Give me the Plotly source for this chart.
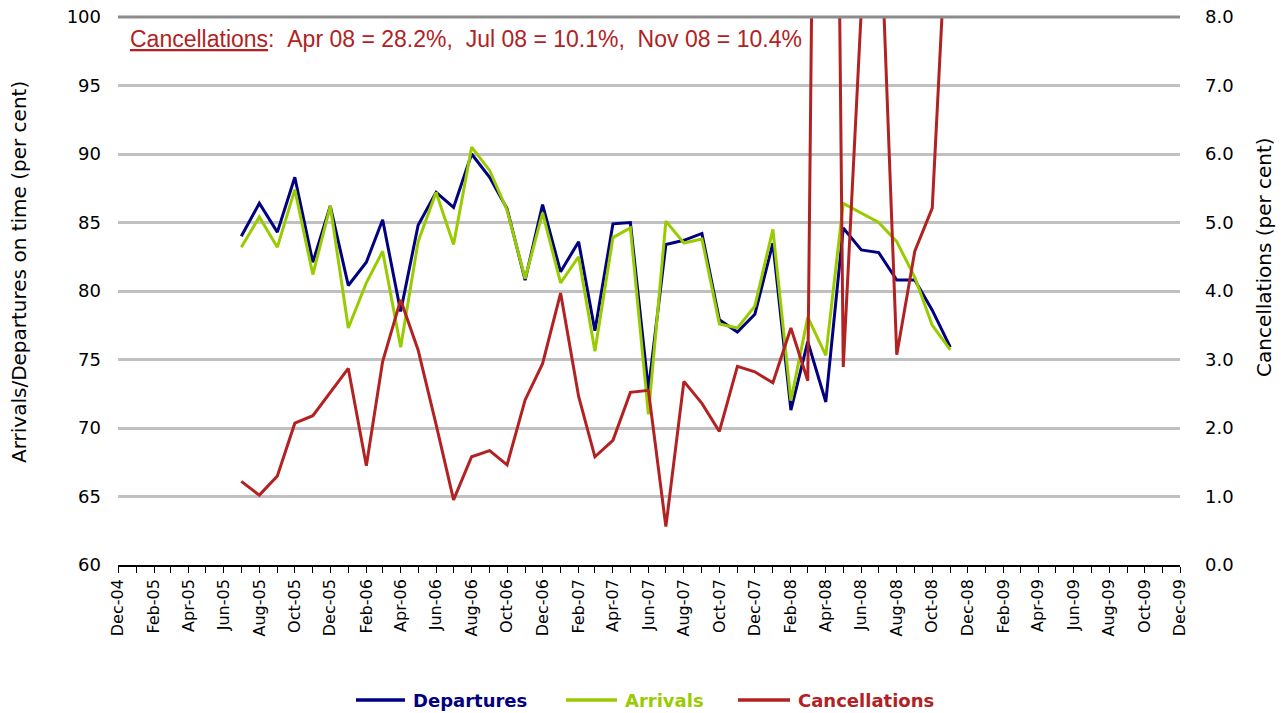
import plotly.graph_objects as go

# ---------------- data ----------------
months = [
    "2005-07-01", "2005-08-01", "2005-09-01", "2005-10-01", "2005-11-01", "2005-12-01",
    "2006-01-01", "2006-02-01", "2006-03-01", "2006-04-01", "2006-05-01", "2006-06-01",
    "2006-07-01", "2006-08-01", "2006-09-01", "2006-10-01", "2006-11-01", "2006-12-01",
    "2007-01-01", "2007-02-01", "2007-03-01", "2007-04-01", "2007-05-01", "2007-06-01",
    "2007-07-01", "2007-08-01", "2007-09-01", "2007-10-01", "2007-11-01", "2007-12-01",
    "2008-01-01", "2008-02-01", "2008-03-01", "2008-04-01", "2008-05-01", "2008-06-01",
    "2008-07-01", "2008-08-01", "2008-09-01", "2008-10-01", "2008-11-01",
]

departures = [
    84.0, 86.4, 84.3, 88.3, 82.1, 86.2,
    80.4, 82.1, 85.2, 78.5, 84.8, 87.2,
    86.1, 90.0, 88.3, 86.0, 80.8, 86.3,
    81.4, 83.6, 77.1, 84.9, 85.0, 72.8,
    83.4, 83.7, 84.2, 77.9, 77.0, 78.3,
    83.5, 71.3, 76.3, 71.9, 84.6, 83.0,
    82.8, 80.8, 80.8, 78.6, 75.9,
]

arrivals = [
    83.2, 85.4, 83.2, 87.4, 81.2, 86.2,
    77.3, 80.6, 82.9, 75.9, 83.6, 87.2,
    83.4, 90.5, 88.8, 85.9, 80.9, 85.7,
    80.6, 82.5, 75.6, 83.9, 84.6, 71.0,
    85.1, 83.5, 83.8, 77.6, 77.3, 78.9,
    84.5, 72.0, 78.1, 75.3, 86.4, 85.7,
    85.0, 83.6, 81.0, 77.5, 75.7,
]

cancellations = [
    1.22, 1.02, 1.30, 2.07, 2.18, 2.52,
    2.87, 1.45, 2.97, 3.87, 3.14, 2.05,
    0.95, 1.58, 1.67, 1.46, 2.41, 2.94,
    3.97, 2.46, 1.58, 1.82, 2.52, 2.55,
    0.56, 2.68, 2.36, 1.95, 2.90, 2.82,
    2.66, 3.46, 2.69, 28.2, 2.89, 8.1,
    10.1, 3.07, 4.58, 5.21, 10.4,
]

series_names = ["Departures", "Arrivals", "Cancellations"]
note_text = ("<u>Cancellations</u>:&nbsp;&nbsp;Apr 08 = 28.2%,&nbsp;&nbsp;Jul 08 = 10.1%,"
             "&nbsp;&nbsp;Nov 08 = 10.4%")

left_title = "Arrivals/Departures on time (per cent)"
right_title = "Cancellations (per cent)"

# ---------------- style ----------------
NAVY = "#000080"
GREEN = "#99CC00"
RED = "#B22222"
GRID = "#C0C0C0"
FONT = "DejaVu Sans"
COLORS = [NAVY, GREEN, RED]

# plot-area geometry (px) used to place legend / titles
W, H = 1285, 713
ML, MR, MT, MB = 118, 105, 17, 148
PW, PH = W - ML - MR, H - MT - MB


def px_x(px):
    return (px - ML) / PW


def px_y(py):
    return (H - MB - py) / PH


fig = go.Figure()
for name, vals, col, ax in [
    (series_names[0], departures, NAVY, "y"),
    (series_names[1], arrivals, GREEN, "y"),
    (series_names[2], cancellations, RED, "y2"),
]:
    fig.add_trace(go.Scatter(
        x=months, y=vals, mode="lines", yaxis=ax, name=name,
        line=dict(color=col, width=3), showlegend=False,
    ))

shapes = [dict(type="line", xref="paper", yref="paper", x0=0, x1=1, y0=1, y1=1,
               line=dict(color="#8C8C8C", width=3))]
annotations = [
    dict(text=note_text, xref="paper", yref="paper", x=px_x(128), y=px_y(39),
         xanchor="left", yanchor="middle", showarrow=False,
         font=dict(family="Liberation Sans", size=23, color=RED)),
    dict(text=left_title, xref="paper", yref="paper", x=px_x(19), y=px_y(272),
         xanchor="center", yanchor="middle", textangle=-90, showarrow=False,
         font=dict(family=FONT, size=20, color="black")),
    dict(text=right_title, xref="paper", yref="paper", x=px_x(1264), y=px_y(257),
         xanchor="center", yanchor="middle", textangle=-90, showarrow=False,
         font=dict(family=FONT, size=20, color="black")),
]

# custom legend (line sample + coloured bold label)
legend_line_px = [(356, 405), (566, 617), (738, 790)]
legend_y_px = 700
for (a, b), nm, col in zip(legend_line_px, series_names, COLORS):
    shapes.append(dict(type="line", xref="paper", yref="paper",
                       x0=px_x(a), x1=px_x(b), y0=px_y(legend_y_px), y1=px_y(legend_y_px),
                       line=dict(color=col, width=3.5)))
    annotations.append(dict(text=f"<b>{nm}</b>", xref="paper", yref="paper",
                            x=px_x(b + 6), y=px_y(legend_y_px), xanchor="left", yanchor="middle",
                            showarrow=False, font=dict(family=FONT, size=18, color=col)))

fig.update_layout(
    width=W, height=H,
    margin=dict(l=ML, r=MR, t=MT, b=MB),
    plot_bgcolor="white", paper_bgcolor="white",
    font=dict(family=FONT, color="black"),
    showlegend=False,
    xaxis=dict(
        type="date", range=["2004-12-01", "2009-12-01"], automargin=False,
        tick0="2004-12-01", dtick="M2", tickformat="%b-%y", tickangle=-90,
        ticks="outside", ticklen=6, tickcolor="black", tickwidth=1,
        showline=True, linecolor="black", linewidth=1.5,
        showgrid=False, zeroline=False,
        minor=dict(dtick="M1", ticks="outside", ticklen=6, tickcolor="black", showgrid=False),
        tickfont=dict(family=FONT, size=16, color="black"),
    ),
    yaxis=dict(
        range=[60, 100], dtick=5, showgrid=True, gridcolor=GRID, gridwidth=2.5,
        zeroline=False, showline=False, ticks="", automargin=False,
        ticklabelstandoff=16,
        tickfont=dict(family=FONT, size=18, color="black"),
    ),
    yaxis2=dict(
        range=[0, 8], dtick=1, tickformat=".1f", overlaying="y", side="right",
        showgrid=False, zeroline=False, showline=False, ticks="", automargin=False,
        ticklabelstandoff=24,
        tickfont=dict(family=FONT, size=18, color="black"),
    ),
    shapes=shapes,
    annotations=annotations,
)

fig.write_html("out.html", config={"displayModeBar": False},
               post_script="document.body.style.margin='0';document.body.style.overflow='hidden';")
